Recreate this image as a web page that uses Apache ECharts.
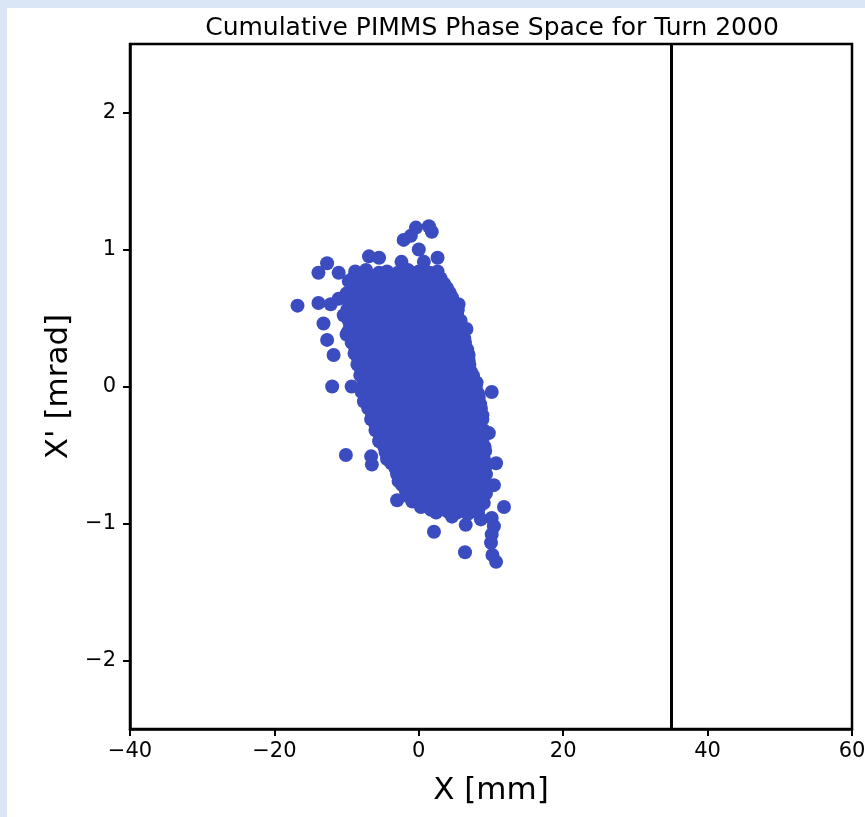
<!DOCTYPE html>
<html>
<head>
<meta charset="utf-8">
<script src="https://cdn.jsdelivr.net/npm/echarts@6/dist/echarts.min.js"></script>
<style>
  html, body { margin: 0; padding: 0; background: #dae6f5; }
  #chart { width: 865px; height: 817px; }
</style>
</head>
<body>
<div id="chart"></div>
<script>
// ---- Chart text ----
const chartTitle = 'Cumulative PIMMS Phase Space for Turn 2000';
const xAxisName = 'X [mm]';
const yAxisName = "X' [mrad]";

// ---- Axis ranges / tick labels ----
const xTicks = [-40, -20, 0, 20, 40, 60];
const yTicks = [-2, -1, 0, 1, 2];
const yRange = [-2.5, 2.5];

// ---- Vertical aperture line (X position, mm) ----
const wallPositions = [35];

// ---- Particles outside the dense core (X mm, X' mrad) ----
const outerParticles = [
  [-16.8, 0.59], [-13.9, 0.83], [-12.7, 0.90], [-11.1, 0.83], [-13.9, 0.61],
  [-12.2, 0.60], [-11.1, 0.64], [-13.2, 0.46], [-12.7, 0.34], [-11.8, 0.23],
  [-10.4, 0.52], [-10.0, 0.38], [-6.9, 0.95], [-5.5, 0.94], [-5.5, 0.83],
  [-7.3, 0.78], [-9.7, 0.77], [-12.0, 0.00], [-9.3, 0.00],
  [-2.1, 1.07], [-1.1, 1.10], [-0.4, 1.16], [1.4, 1.17], [1.8, 1.13],
  [0.0, 1.00], [0.7, 0.91], [2.6, 0.94], [3.0, 0.79], [-2.4, 0.91],
  [4.2, 0.69], [5.5, 0.60], [5.1, 0.54], [6.6, 0.42], [6.9, 0.23],
  [6.6, 0.09], [8.0, 0.03], [10.1, -0.04],
  [-10.1, -0.50], [-6.6, -0.51], [-6.5, -0.57], [-4.4, -0.53], [-2.8, -0.69],
  [-3.0, -0.83], [-7.6, -0.11], [-7.9, -0.04], [-5.3, -0.34],
  [9.7, -0.34], [10.7, -0.56], [10.4, -0.72], [11.8, -0.88], [10.1, -0.96],
  [10.4, -1.02], [10.1, -1.08], [10.0, -1.14], [10.2, -1.23], [10.7, -1.28],
  [6.4, -1.21], [2.1, -1.06], [1.7, -0.90], [6.5, -1.01], [8.6, -0.97],
  [9.3, -0.78], [9.0, -0.53], [7.9, -0.88], [4.6, -0.95]
];

// ---- Particles in the dense core (X mm, X' mrad) ----
const coreParticles = [
  [-8.8, 0.84], [-7.3, 0.85], [-4.4, 0.84], [-2.9, 0.83], [-1.5, 0.85], [0.0, 0.84], [1.5, 0.83], [2.6, 0.84],
  [-9.0, 0.80], [-7.6, 0.80], [-5.9, 0.81], [-4.5, 0.80], [-3.0, 0.79], [-1.6, 0.80], [-0.1, 0.81], [1.3, 0.80], [2.8, 0.79],
  [-9.5, 0.76], [-8.1, 0.75], [-6.6, 0.76], [-5.2, 0.77], [-3.7, 0.76], [-2.2, 0.75], [-0.8, 0.76], [0.7, 0.77], [2.1, 0.76], [3.5, 0.75],
  [-9.2, 0.72], [-7.7, 0.72], [-6.3, 0.73], [-4.8, 0.72], [-3.4, 0.71], [-1.9, 0.72], [-0.5, 0.73], [1.0, 0.72], [2.4, 0.71], [3.9, 0.72],
  [-10.0, 0.68], [-8.8, 0.69], [-7.3, 0.68], [-5.9, 0.67], [-4.4, 0.68], [-3.0, 0.69], [-1.5, 0.68], [0.0, 0.67], [1.4, 0.68], [2.9, 0.69], [4.3, 0.68],
  [-9.8, 0.64], [-8.4, 0.64], [-7.0, 0.65], [-5.5, 0.64], [-4.1, 0.63], [-2.6, 0.64], [-1.2, 0.65], [0.3, 0.64], [1.7, 0.63], [3.2, 0.64], [4.6, 0.65],
  [-9.6, 0.60], [-8.1, 0.61], [-6.7, 0.60], [-5.2, 0.59], [-3.7, 0.60], [-2.3, 0.61], [-0.8, 0.60], [0.6, 0.59], [2.1, 0.60], [3.6, 0.61], [5.0, 0.60],
  [-9.9, 0.56], [-8.6, 0.56], [-7.1, 0.57], [-5.7, 0.56], [-4.2, 0.55], [-2.8, 0.56], [-1.3, 0.57], [0.1, 0.56], [1.6, 0.55], [3.0, 0.56], [4.5, 0.57], [5.4, 0.56],
  [-9.2, 0.52], [-7.8, 0.53], [-6.3, 0.52], [-4.8, 0.51], [-3.4, 0.52], [-1.9, 0.53], [-0.5, 0.52], [1.0, 0.51], [2.4, 0.52], [3.9, 0.53], [5.3, 0.52],
  [-9.7, 0.48], [-8.2, 0.48], [-6.8, 0.49], [-5.3, 0.48], [-3.9, 0.47], [-2.4, 0.48], [-1.0, 0.49], [0.5, 0.48], [1.9, 0.47], [3.4, 0.48], [4.8, 0.49], [5.8, 0.48],
  [-9.5, 0.44], [-8.5, 0.45], [-7.0, 0.44], [-5.6, 0.43], [-4.1, 0.44], [-2.7, 0.45], [-1.2, 0.44], [0.3, 0.43], [1.7, 0.44], [3.2, 0.45], [4.6, 0.44], [6.0, 0.43],
  [-9.8, 0.40], [-8.0, 0.40], [-6.6, 0.41], [-5.1, 0.40], [-3.7, 0.39], [-2.2, 0.40], [-0.8, 0.41], [0.7, 0.40], [2.1, 0.39], [3.6, 0.40], [5.0, 0.41], [6.1, 0.40],
  [-9.1, 0.36], [-7.7, 0.37], [-6.2, 0.36], [-4.8, 0.35], [-3.3, 0.36], [-1.9, 0.37], [-0.4, 0.36], [1.0, 0.35], [2.5, 0.36], [3.9, 0.37], [5.4, 0.36], [6.3, 0.35],
  [-9.3, 0.32], [-7.9, 0.32], [-6.4, 0.33], [-5.0, 0.32], [-3.5, 0.31], [-2.1, 0.32], [-0.6, 0.33], [0.8, 0.32], [2.3, 0.31], [3.7, 0.32], [5.2, 0.33], [6.4, 0.32],
  [-8.8, 0.28], [-7.3, 0.29], [-5.9, 0.28], [-4.4, 0.27], [-3.0, 0.28], [-1.5, 0.29], [0.0, 0.28], [1.4, 0.27], [2.9, 0.28], [4.3, 0.29], [5.8, 0.28], [6.7, 0.27],
  [-8.9, 0.24], [-7.5, 0.24], [-6.0, 0.25], [-4.6, 0.24], [-3.1, 0.23], [-1.7, 0.24], [-0.2, 0.25], [1.2, 0.24], [2.7, 0.23], [4.1, 0.24], [5.6, 0.25], [6.8, 0.24],
  [-8.4, 0.20], [-7.0, 0.21], [-5.5, 0.20], [-4.1, 0.19], [-2.6, 0.20], [-1.2, 0.21], [0.3, 0.20], [1.7, 0.19], [3.2, 0.20], [4.6, 0.21], [6.1, 0.20], [6.9, 0.19],
  [-8.5, 0.16], [-7.1, 0.16], [-5.6, 0.17], [-4.2, 0.16], [-2.7, 0.15], [-1.3, 0.16], [0.2, 0.17], [1.6, 0.16], [3.1, 0.15], [4.5, 0.16], [6.0, 0.17], [7.0, 0.16],
  [-8.0, 0.12], [-6.6, 0.13], [-5.1, 0.12], [-3.7, 0.11], [-2.2, 0.12], [-0.8, 0.13], [0.7, 0.12], [2.1, 0.11], [3.6, 0.12], [5.0, 0.13], [6.5, 0.12], [7.2, 0.11],
  [-8.1, 0.08], [-6.7, 0.08], [-5.2, 0.09], [-3.8, 0.08], [-2.3, 0.07], [-0.9, 0.08], [0.6, 0.09], [2.0, 0.08], [3.5, 0.07], [4.9, 0.08], [6.4, 0.09], [7.5, 0.08],
  [-7.6, 0.04], [-6.2, 0.05], [-4.7, 0.04], [-3.3, 0.03], [-1.8, 0.04], [-0.4, 0.05], [1.1, 0.04], [2.5, 0.03], [4.0, 0.04], [5.4, 0.05], [6.9, 0.04], [7.8, 0.03],
  [-7.7, 0.00], [-6.3, 0.00], [-4.8, 0.01], [-3.4, 0.00], [-1.9, -0.01], [-0.5, 0.00], [1.0, 0.01], [2.4, 0.00], [3.9, -0.01], [5.3, 0.00], [6.8, 0.01], [7.9, 0.00],
  [-7.3, -0.04], [-5.8, -0.03], [-4.4, -0.04], [-2.9, -0.05], [-1.5, -0.04], [0.0, -0.03], [1.4, -0.04], [2.9, -0.05], [4.3, -0.04], [5.8, -0.03], [7.2, -0.04], [8.2, -0.05],
  [-7.4, -0.08], [-6.0, -0.08], [-4.5, -0.07], [-3.1, -0.08], [-1.6, -0.09], [-0.2, -0.08], [1.3, -0.07], [2.7, -0.08], [4.2, -0.09], [5.6, -0.08], [7.1, -0.07], [8.3, -0.08],
  [-7.0, -0.12], [-5.5, -0.11], [-4.0, -0.12], [-2.6, -0.13], [-1.1, -0.12], [0.3, -0.11], [1.8, -0.12], [3.2, -0.13], [4.7, -0.12], [6.1, -0.11], [7.6, -0.12], [8.5, -0.13],
  [-7.0, -0.16], [-5.6, -0.16], [-4.1, -0.15], [-2.7, -0.16], [-1.2, -0.17], [0.2, -0.16], [1.7, -0.15], [3.1, -0.16], [4.6, -0.17], [6.0, -0.16], [7.5, -0.15], [8.6, -0.16],
  [-6.5, -0.20], [-5.1, -0.19], [-3.6, -0.20], [-2.2, -0.21], [-0.7, -0.20], [0.7, -0.19], [2.2, -0.20], [3.6, -0.21], [5.1, -0.20], [6.5, -0.19], [8.0, -0.20], [8.8, -0.21],
  [-6.6, -0.24], [-5.2, -0.24], [-3.7, -0.23], [-2.3, -0.24], [-0.8, -0.25], [0.6, -0.24], [2.1, -0.23], [3.5, -0.24], [5.0, -0.25], [6.4, -0.24], [7.9, -0.23], [8.8, -0.24],
  [-6.0, -0.28], [-4.6, -0.27], [-3.1, -0.28], [-1.7, -0.29], [-0.2, -0.28], [1.2, -0.27], [2.7, -0.28], [4.1, -0.29], [5.6, -0.28], [7.0, -0.27], [8.4, -0.28],
  [-6.0, -0.32], [-4.6, -0.32], [-3.1, -0.31], [-1.7, -0.32], [-0.2, -0.33], [1.2, -0.32], [2.7, -0.31], [4.1, -0.32], [5.6, -0.33], [7.0, -0.32], [8.5, -0.31], [9.0, -0.32],
  [-5.4, -0.36], [-4.0, -0.35], [-2.5, -0.36], [-1.1, -0.37], [0.4, -0.36], [1.8, -0.35], [3.3, -0.36], [4.7, -0.37], [6.2, -0.36], [7.6, -0.35], [8.9, -0.36],
  [-5.5, -0.40], [-4.1, -0.40], [-2.6, -0.39], [-1.2, -0.40], [0.3, -0.41], [1.7, -0.40], [3.2, -0.39], [4.6, -0.40], [6.1, -0.41], [7.5, -0.40], [8.8, -0.39],
  [-4.8, -0.44], [-3.4, -0.43], [-1.9, -0.44], [-0.5, -0.45], [1.0, -0.44], [2.4, -0.43], [3.9, -0.44], [5.3, -0.45], [6.8, -0.44], [8.2, -0.43], [9.1, -0.44],
  [-4.6, -0.48], [-3.2, -0.48], [-1.7, -0.47], [-0.3, -0.48], [1.2, -0.49], [2.6, -0.48], [4.1, -0.47], [5.5, -0.48], [7.0, -0.49], [8.4, -0.48], [9.2, -0.47],
  [-3.9, -0.52], [-2.5, -0.51], [-1.0, -0.52], [0.4, -0.53], [1.9, -0.52], [3.3, -0.51], [4.8, -0.52], [6.2, -0.53], [7.7, -0.52], [8.9, -0.51],
  [-3.8, -0.56], [-2.4, -0.56], [-0.9, -0.55], [0.5, -0.56], [2.0, -0.57], [3.4, -0.56], [4.9, -0.55], [6.3, -0.56], [7.8, -0.57], [9.0, -0.56],
  [-3.2, -0.60], [-1.8, -0.59], [-0.3, -0.60], [1.1, -0.61], [2.6, -0.60], [4.0, -0.59], [5.5, -0.60], [6.9, -0.61], [8.4, -0.60], [9.2, -0.59],
  [-3.0, -0.64], [-1.6, -0.64], [-0.1, -0.63], [1.3, -0.64], [2.8, -0.65], [4.2, -0.64], [5.7, -0.63], [7.1, -0.64], [8.6, -0.65], [9.3, -0.64],
  [-2.6, -0.68], [-1.1, -0.67], [0.3, -0.68], [1.8, -0.69], [3.2, -0.68], [4.7, -0.67], [6.1, -0.68], [7.6, -0.69], [8.9, -0.68],
  [-2.3, -0.72], [-0.8, -0.72], [0.6, -0.71], [2.1, -0.72], [3.5, -0.73], [5.0, -0.72], [6.4, -0.71], [7.9, -0.72], [9.0, -0.73],
  [-1.8, -0.76], [-0.4, -0.75], [1.1, -0.76], [2.5, -0.77], [4.0, -0.76], [5.4, -0.75], [6.9, -0.76], [8.3, -0.77],
  [-1.5, -0.80], [-0.1, -0.80], [1.4, -0.79], [2.8, -0.80], [4.3, -0.81], [5.7, -0.80], [7.2, -0.79], [8.6, -0.80],
  [-0.9, -0.84], [0.6, -0.83], [2.0, -0.84], [3.5, -0.85], [4.9, -0.84], [6.4, -0.83], [7.8, -0.84], [9.0, -0.85],
  [0.3, -0.88], [1.3, -0.88], [2.8, -0.87], [4.2, -0.88], [5.7, -0.89], [7.1, -0.88], [8.5, -0.87],
  [2.4, -0.92], [3.9, -0.91], [5.3, -0.92], [6.8, -0.93], [8.2, -0.92]
];

// ---- Styling ----
const pointColor = '#3b4cc0';
const fontFamily = "'DejaVu Sans', sans-serif";
const fmtMinus = v => String(v).replace('-', '\u2212');

const chart = echarts.init(document.getElementById('chart'), null, { renderer: 'canvas' });

const option = {
  backgroundColor: '#dae6f5',
  animation: false,
  graphic: [{
    type: 'rect',
    z: -100,
    silent: true,
    shape: { x: 7, y: 8, width: 858, height: 809 },
    style: { fill: '#ffffff' }
  }],
  title: {
    text: chartTitle,
    left: 487,
    top: 11,
    textAlign: 'center',
    textStyle: { fontFamily: fontFamily, fontSize: 25, fontWeight: 'normal', color: '#000' }
  },
  grid: {
    left: 130, right: 13, top: 44, bottom: 88,
    outerBoundsMode: 'none',
    containLabel: false,
    show: true,
    borderColor: '#000',
    borderWidth: 2.5,
    backgroundColor: 'transparent'
  },
  xAxis: {
    type: 'value',
    min: xTicks[0],
    max: xTicks[xTicks.length - 1],
    interval: 20,
    name: xAxisName,
    nameLocation: 'middle',
    nameGap: 46,
    nameTextStyle: { fontFamily: fontFamily, fontSize: 31, color: '#000' },
    axisLine: { show: true, onZero: false, lineStyle: { color: '#000', width: 2.5 } },
    axisTick: { show: true, inside: false, length: 7, lineStyle: { color: '#000', width: 2 } },
    axisLabel: {
      margin: 12,
      fontFamily: fontFamily, fontSize: 21, color: '#000',
      formatter: v => fmtMinus(v)
    },
    splitLine: { show: false }
  },
  yAxis: {
    type: 'value',
    min: yRange[0],
    max: yRange[1],
    name: yAxisName,
    nameLocation: 'middle',
    nameRotate: 90,
    nameGap: 52,
    nameTextStyle: { fontFamily: fontFamily, fontSize: 31, color: '#000' },
    axisLine: { show: true, onZero: false, lineStyle: { color: '#000', width: 2.5 } },
    axisTick: { show: true, inside: false, length: 7, customValues: yTicks, lineStyle: { color: '#000', width: 2 } },
    axisLabel: {
      margin: 14,
      customValues: yTicks,
      fontFamily: fontFamily, fontSize: 21, color: '#000',
      formatter: v => fmtMinus(v)
    },
    splitLine: { show: false }
  },
  series: [
    {
      type: 'scatter',
      symbol: 'circle',
      symbolSize: 14,
      itemStyle: { color: pointColor, opacity: 1 },
      data: coreParticles.concat(outerParticles),
      markLine: {
        silent: true,
        symbol: ['none', 'none'],
        label: { show: false },
        lineStyle: { color: '#000', width: 3, type: 'solid' },
        data: wallPositions.map(v => ({ xAxis: v }))
      }
    }
  ]
};

chart.setOption(option);
</script>
</body>
</html>
